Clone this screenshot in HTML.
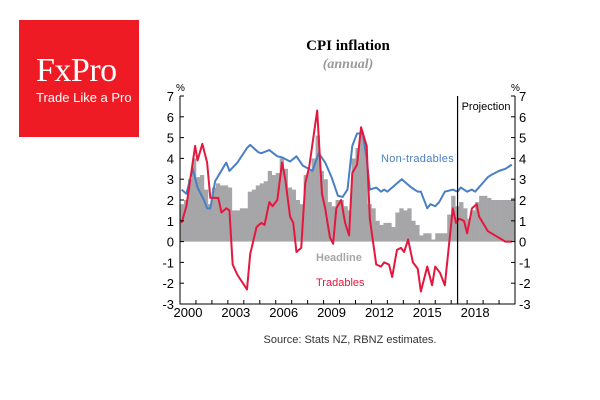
<!DOCTYPE html>
<html><head><meta charset="utf-8"><style>
body{margin:0;background:#fff;width:600px;height:400px;overflow:hidden;position:relative;font-family:"Liberation Sans",sans-serif}
#logo{position:absolute;left:19px;top:20px;width:120px;height:117px;background:#ee1b24}
</style></head><body>
<div id="logo">
<div style="position:absolute;left:17px;top:32px;color:#fff;font-family:'Liberation Serif',serif;font-size:34px;letter-spacing:-0.5px">FxPro</div>
<div style="position:absolute;left:17px;top:70px;color:#fff;font-size:13px">Trade Like a Pro</div>
</div>
<svg id="chart" width="600" height="400" style="position:absolute;left:0;top:0"></svg>
<script>
const barVals=[1.8,2.0,3.0,4.0, 3.1,3.2,2.5,1.8, 2.6,2.8,2.7,2.7, 2.6,1.5,1.5,1.6, 1.6,2.4,2.5,2.7, 2.8,2.9,3.4,3.2, 3.3,4.0,3.5,2.6, 2.5,2.0,1.8,3.2, 3.4,4.0,5.1,3.4, 3.0,1.9,1.7,2.0, 2.0,1.7,1.5,4.0, 4.5,5.3,4.6,1.8, 1.6,1.0,0.8,0.9, 0.9,0.7,1.4,1.6, 1.5,1.6,1.0,0.8, 0.3,0.4,0.4,0.1, 0.4,0.4,0.4,1.3, 2.2,1.7,1.9,1.6, 1.1,1.5,1.9,2.2, 2.2,2.1,2.0,2.0, 2.0,2.0,2.0,2.1];
const tradDates=[2000.1,2000.4,2000.95,2001.1,2001.4,2001.7,2001.9,2002.4,2002.6,2002.9,2003.1,2003.3,2003.6,2004.2,2004.4,2004.8,2005.1,2005.3,2005.6,2005.8,2006.1,2006.4,2006.6,2006.9,2007.1,2007.3,2007.6,2007.85,2008.1,2008.6,2008.9,2009.1,2009.4,2009.6,2009.8,2010.1,2010.35,2010.6,2010.8,2011.1,2011.35,2011.7,2011.9,2012.3,2012.6,2012.8,2013.1,2013.3,2013.6,2013.85,2014.05,2014.3,2014.6,2014.9,2015.1,2015.3,2015.5,2015.8,2016.0,2016.3,2016.6,2017.1,2017.3,2017.5,2017.8,2018.0,2018.3,2018.6,2018.75,2019.3,2020.4,2020.8];
const tradVals=[0.9,1.7,4.6,3.9,4.7,3.8,2.1,2.1,1.4,1.6,1.5,-1.1,-1.6,-2.3,-0.6,0.7,0.9,0.8,1.9,1.7,2.0,3.8,3.0,1.2,0.9,-0.5,-0.3,2.8,3.6,6.3,2.3,1.6,0.2,-0.1,1.6,2.0,0.9,0.3,3.3,3.7,5.5,4.6,1.1,-1.1,-1.2,-1.0,-1.1,-1.7,-0.4,-0.3,-0.5,0.1,-1.0,-1.3,-2.4,-1.8,-1.2,-2.1,-1.2,-1.5,-2.1,1.6,0.9,1.1,1.0,0.4,1.6,1.8,1.2,0.5,0.0,0.0];
const nonDates=[2000.1,2000.4,2000.8,2001.1,2001.5,2001.7,2001.9,2002.2,2002.9,2003.1,2003.6,2004.2,2004.4,2004.9,2005.1,2005.6,2006.1,2006.4,2006.9,2007.3,2007.7,2008.3,2008.7,2009.1,2009.5,2009.9,2010.2,2010.5,2010.8,2011.1,2011.45,2011.7,2011.9,2012.3,2012.6,2012.8,2013.0,2013.6,2013.9,2014.5,2014.9,2015.1,2015.5,2015.7,2016.0,2016.25,2016.6,2017.1,2017.4,2017.6,2018.0,2018.3,2018.5,2019.3,2019.5,2020.0,2020.4,2020.8];
const nonVals=[2.5,2.3,3.5,2.6,2.0,1.6,1.6,2.9,3.8,3.4,3.8,4.5,4.65,4.3,4.25,4.4,4.1,4.05,3.85,4.1,3.65,3.4,4.25,3.8,3.1,2.2,2.15,2.5,4.6,5.2,5.2,4.0,2.5,2.6,2.4,2.5,2.4,2.8,3.0,2.6,2.4,2.4,1.6,1.8,1.7,1.9,2.4,2.5,2.4,2.6,2.4,2.5,2.4,3.1,3.2,3.4,3.5,3.7];
const yTicks=[-3,-2,-1,0,1,2,3,4,5,6,7];
const xTicks=[2000,2003,2006,2009,2012,2015,2018];
const projStart=2017.4;

const svg=document.getElementById('chart');const NS='http://www.w3.org/2000/svg';
const X0=180,X1=515,Y7=96,Ym3=304;
const xs=t=>X0+(t-2000)*(X1-X0)/21;
const ys=v=>Ym3-(v+3)*(Ym3-Y7)/10;
function mk(tag,at,txt){const e=document.createElementNS(NS,tag);for(const k in at)e.setAttribute(k,at[k]);if(txt!=null)e.textContent=txt;svg.appendChild(e);return e;}
let e;
e=mk('text',{x:348,y:50,'text-anchor':'middle','font-family':'Liberation Serif,serif','font-size':15,'font-weight':'bold',fill:'#000'},'CPI inflation');


e=mk('text',{x:348,y:68,'text-anchor':'middle','font-family':'Liberation Serif,serif','font-size':14,'font-style':'italic','font-weight':'bold',fill:'#999'},'(annual)');


const qw=(X1-X0)/84;
barVals.forEach((v,i)=>{const y0=ys(0),y=ys(v);
e=mk('rect',{x:xs(2000+i/4),y:Math.min(y,y0),width:qw+0.3,height:Math.abs(y0-y),fill:'#a6a6a8'});

});
function line(d,v,c,n){e=mk('polyline',{points:d.map((t,i)=>xs(t)+','+ys(v[i])).join(' '),fill:'none',stroke:c,'stroke-width':2,'stroke-linejoin':'round'});

}
line(nonDates,nonVals,'#4a7fc4','non-tradables-line');
line(tradDates,tradVals,'#e4173e','tradables-line');
e=mk('path',{d:`M${X0},${Y7}V${Ym3}H${X1}V${Y7}`,fill:'none',stroke:'#000','stroke-width':1});


yTicks.forEach(v=>{const y=ys(v);
mk('line',{x1:X0,x2:X0+4,y1:y,y2:y,stroke:'#000'});mk('line',{x1:X1-4,x2:X1,y1:y,y2:y,stroke:'#000'});
e=mk('text',{x:X0-6,y:y+5,'text-anchor':'end','font-size':13,fill:'#000'},String(v));


e=mk('text',{x:X1+4,y:y+5,'font-size':13,fill:'#000'},String(v));

});
for(let yr=2000;yr<=2021;yr++){mk('line',{x1:xs(yr),x2:xs(yr),y1:Ym3,y2:Ym3-4,stroke:'#000'});}
xTicks.forEach(t=>{e=mk('text',{x:xs(t+0.5),y:Ym3+13,'text-anchor':'middle','font-size':13,fill:'#000'},String(t));

});
mk('text',{x:176,y:91,'font-size':10},'%');mk('text',{x:511,y:91,'font-size':10},'%');
e=mk('line',{x1:xs(projStart),x2:xs(projStart),y1:Y7,y2:Ym3,stroke:'#000','stroke-width':1.2});


e=mk('text',{x:xs(projStart)+4,y:110,'font-size':11,fill:'#000'},'Projection');


e=mk('text',{x:381,y:162,'font-size':11,fill:'#4a7fc4','letter-spacing':0.3},'Non-tradables');


e=mk('text',{x:316,y:261,'font-size':11,fill:'#a6a6a8','font-weight':'bold'},'Headline');


e=mk('text',{x:316,y:286,'font-size':11,fill:'#e4173e'},'Tradables');


e=mk('text',{x:350,y:343,'text-anchor':'middle','font-size':11,fill:'#333'},'Source: Stats NZ, RBNZ estimates.');


</script>
</body></html>
